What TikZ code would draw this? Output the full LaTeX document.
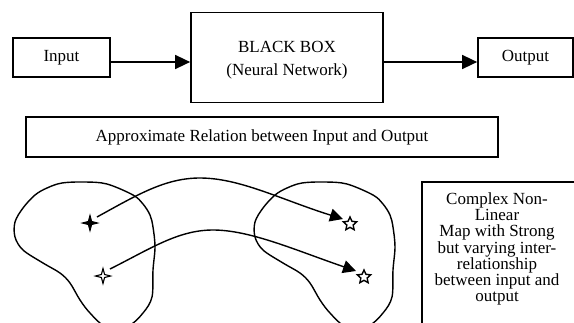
\documentclass[tikz,border=0pt]{standalone}
\usepackage{fontspec}
\setmainfont{Liberation Serif}
\usetikzlibrary{arrows.meta,shapes.geometric}
\begin{document}
\begin{tikzpicture}[x=1pt,y=-1pt,
  box/.style={draw,line width=1.7pt,rectangle,inner sep=0pt,font=\fontsize{17}{23}\selectfont,align=center},
  lbl/.style={inner sep=0pt,font=\fontsize{17}{23}\selectfont,align=center},
  arr/.style={line width=1.5pt,-{Triangle[length=15pt,width=14pt]}},
  curv/.style={line width=1.4pt,-{Triangle[length=13pt,width=13pt]}},
  blob/.style={line width=1.4pt},
  cross/.style={line width=1.1pt,line join=miter},
  starmark/.style={star,star points=5,star point ratio=2.1,draw,line width=1.4pt,minimum size=14pt,inner sep=0pt}]
\useasboundingbox (0,0) rectangle (574,322);

% top row
\node[box,minimum width=97pt,minimum height=39pt] (in) at (61.5,57.5) {Input};
\node[box,minimum width=192pt,minimum height=90pt] (bb) at (287,57.5) {};
\node[lbl] (bbt) at (287,60.5) {BLACK BOX\\(Neural Network)};
\node[box,minimum width=95pt,minimum height=39pt] (out) at (525.5,57.5) {Output};

\coordinate (a1) at ([yshift=-4.5pt]in.east);
\coordinate (a2) at (a1 -| bb.west);
\coordinate (a3) at ([yshift=-4.5pt]bb.east);
\coordinate (a4) at (a3 -| out.west);
\draw[arr] (a1) -- (a2);
\draw[arr] (a3) -- (a4);

% relation box
\node[box,line width=2.4pt,minimum width=472pt,minimum height=40pt] (ap) at (262,137) {Approximate Relation between Input and Output};

% blobs
\draw[blob] plot[smooth cycle,tension=0.55] coordinates {(62,183) (85,182) (107,184) (133,195) (143,204) (150,215) (153,227) (155,247) (153,270) (152,297) (143,313) (128,326) (105,326) (90,313) (80,300) (70,283) (60,273) (43,263) (23,250) (15,237) (15,222) (23,208) (35,195) (47,188)};
\draw[blob] plot[smooth cycle,tension=0.55] coordinates {(302,183) (325,182) (347,184) (373,195) (383,204) (390,215) (393,227) (395,247) (393,270) (392,297) (383,313) (368,326) (345,326) (330,313) (320,300) (310,283) (300,273) (283,263) (263,250) (255,237) (255,222) (263,208) (275,195) (287,188)};

% input points (four-pointed stars)
\coordinate (c1) at (90,223);
\coordinate (c2) at (103,276);
\draw[cross,fill=black] (c1) ++(0,-7.5) -- ++(1.6,6) -- ++(5.9,1.5) -- ++(-5.9,1.5) -- ++(-1.6,6) -- ++(-1.6,-6) -- ++(-5.9,-1.5) -- ++(5.9,-1.5) -- cycle;
\draw[cross,fill=white] (c2) ++(0,-7.5) -- ++(1.6,6) -- ++(5.9,1.5) -- ++(-5.9,1.5) -- ++(-1.6,6) -- ++(-1.6,-6) -- ++(-5.9,-1.5) -- ++(5.9,-1.5) -- cycle;

% output points (stars)
\node[starmark] (s1) at (350,224) {};
\node[starmark] (s2) at (364,277) {};

% mapping curves
\coordinate (p1) at (97,217);
\coordinate (t1) at (343,219);
\coordinate (p2) at (110,269);
\coordinate (t2) at (356,271);
\draw[curv] (p1) .. controls (137,195) and (165,178) .. (200,178) .. controls (240,178) and (282,200) .. (t1);
\draw[curv] (p2) .. controls (150,249) and (178,230) .. (213,230) .. controls (250,230) and (295,250) .. (t2);

% description box
\node[draw,line width=1.7pt,minimum width=153pt,minimum height=150pt,inner sep=0pt] (tb) at (498.5,257) {};
\node[inner sep=0pt,font=\fontsize{17}{16.2}\selectfont,align=center] (tbt) at (497,249) {Complex Non-\\Linear\\Map with Strong\\but varying inter-\\relationship\\between input and\\output};
\end{tikzpicture}
\end{document}
